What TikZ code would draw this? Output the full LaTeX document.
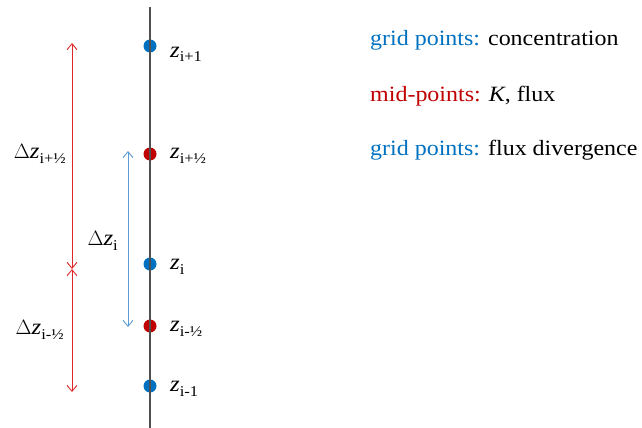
\documentclass[tikz,border=0pt]{standalone}
\usepackage{fontspec}
\setmainfont{Liberation Serif}[FakeStretch=1.1]
\usepackage{tikz}
\usetikzlibrary{arrows.meta, positioning}
\definecolor{gridblue}{RGB}{0,112,192}
\definecolor{midred}{RGB}{192,0,0}
\definecolor{arrblue}{RGB}{91,155,213}
\definecolor{arrred}{RGB}{220,40,40}
\definecolor{axisgray}{RGB}{80,80,80}
\newcommand{\zsub}[1]{\textit{z}\raisebox{-5pt}{\fontsize{15}{15}\selectfont #1}}

\begin{document}
\begin{tikzpicture}[
  x=1pt, y=-1pt,
  gpt/.style={circle, fill=gridblue, inner sep=0pt, minimum size=13pt},
  mpt/.style={circle, fill=midred, inner sep=0pt, minimum size=13pt},
  lab/.style={anchor=base west, font=\fontsize{22.5}{22.5}\selectfont, inner sep=0pt},
  dlab/.style={anchor=base east, font=\fontsize{22.5}{22.5}\selectfont, inner sep=0pt},
  leg/.style={anchor=base west, font=\fontsize{21.8}{21.8}\selectfont, inner sep=0pt},
  dim/.style={{Straight Barb[length=6pt,width=10pt]}-{Straight Barb[length=6pt,width=10pt]}, line width=0.9pt},
]
  \useasboundingbox (0,0) rectangle (642,428);

  % grid and mid points
  \node[gpt] (zp1) at (150,46) {};
  \node[mpt] (zph) at (150,154) {};
  \node[gpt] (zi) at (150,264) {};
  \node[mpt] (zmh) at (150,326) {};
  \node[gpt] (zm1) at (150,386) {};
  \coordinate (top) at (150,7);
  \coordinate (bot) at (150,428);
  \draw[axisgray, line width=1.3pt] (top) -- (bot);

  \node[lab] (lzp1) at (170,57) {\zsub{i+1}};
  \node[lab] (lzph) at (170,158) {\zsub{i+½}};
  \node[lab] (lzi) at (170,269) {\zsub{i}};
  \node[lab] (lzmh) at (170,331) {\zsub{i-½}};
  \node[lab] (lzm1) at (170,391) {\zsub{i-1}};

  % spacing arrows
  \coordinate (ra) at (72,43);
  \coordinate (rb) at (72,269);
  \coordinate (rc) at (72,392);
  \coordinate (ba) at (128,151);
  \coordinate (bb) at (128,327);
  \draw[dim, arrred] (rb) -- (ra);
  \draw[dim, arrred] (rb) -- (rc);
  \draw[dim, arrblue] (ba) -- (bb);

  \node[dlab] (dph) at (66,158) {$\Delta$\zsub{i+½}};
  \node[dlab] (dzi) at (118,245) {$\Delta$\zsub{i}};
  \node[dlab] (dmh) at (64,334) {$\Delta$\zsub{i-½}};

  % legend
  \node[leg] (l1) at (370,46) {\textcolor{gridblue}{grid points:} concentration};
  \node[leg] (l2) at (370,101) {\textcolor{midred}{mid-points:} \textit{K}, flux};
  \node[leg] (l3) at (370,155) {\textcolor{gridblue}{grid points:} flux divergence};
\end{tikzpicture}
\end{document}
